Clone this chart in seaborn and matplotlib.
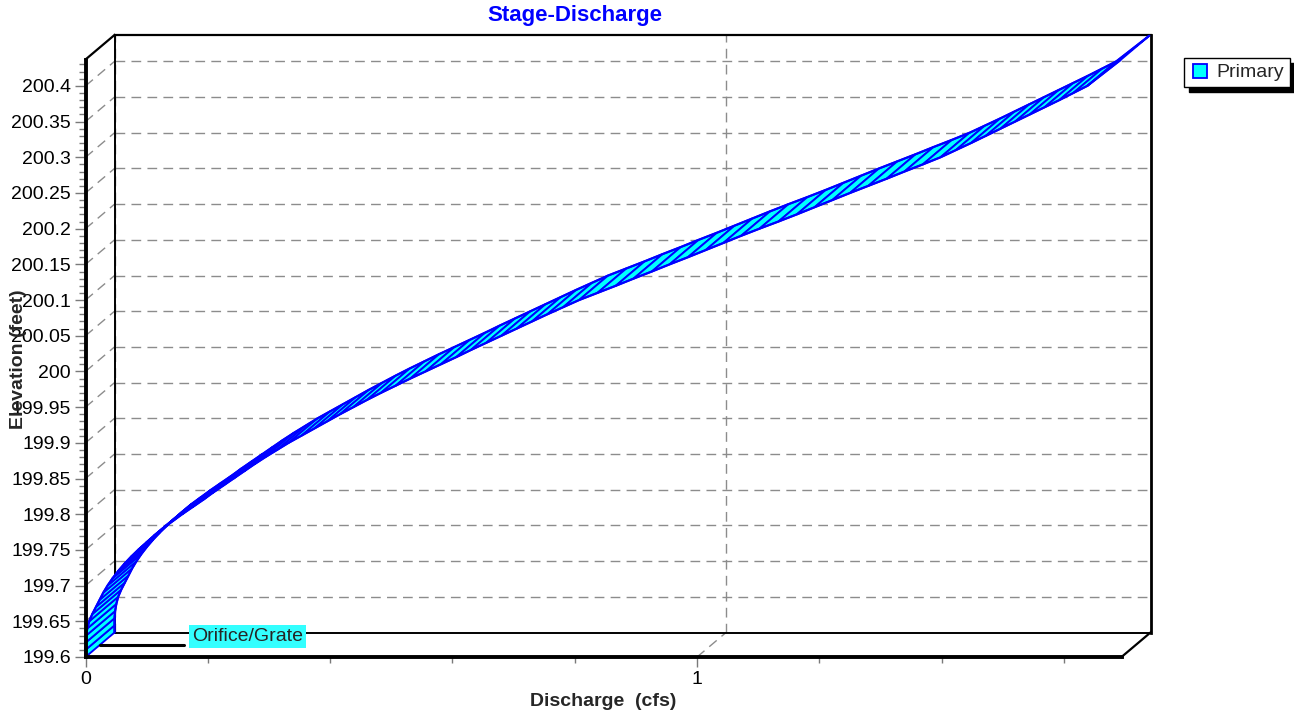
import matplotlib
matplotlib.use("Agg")
import matplotlib.pyplot as plt
from matplotlib.lines import Line2D
from matplotlib.ticker import MultipleLocator, FixedLocator, FormatStrFormatter
import numpy as np
import seaborn as sns

# stage-discharge table (feet, cfs)
elevation = [
    199.60, 199.61, 199.62, 199.63, 199.64, 199.65, 199.66, 199.67, 199.68, 199.69,
    199.70, 199.71, 199.72, 199.73, 199.74, 199.75, 199.76, 199.77, 199.78, 199.79,
    199.80, 199.81, 199.82, 199.83, 199.84, 199.85, 199.86, 199.87, 199.88, 199.89,
    199.90, 199.91, 199.92, 199.93, 199.94, 199.95, 199.96, 199.97, 199.98, 199.99,
    200.00, 200.01, 200.02, 200.03, 200.04, 200.05, 200.06, 200.07, 200.08, 200.09,
    200.10, 200.11, 200.12, 200.13, 200.14, 200.15, 200.16, 200.17, 200.18, 200.19,
    200.20, 200.21, 200.22, 200.23, 200.24, 200.25, 200.26, 200.27, 200.28, 200.29,
    200.30, 200.31, 200.32, 200.33, 200.34, 200.35, 200.36, 200.37, 200.38, 200.39,
    200.40, 200.436,
]
discharge = [
    0.000, 0.000, 0.000, 0.001, 0.003, 0.006, 0.011, 0.017, 0.023, 0.029,
    0.036, 0.044, 0.053, 0.063, 0.074, 0.086, 0.099, 0.112, 0.126, 0.142,
    0.158, 0.175, 0.192, 0.208, 0.225, 0.242, 0.259, 0.276, 0.294, 0.313,
    0.332, 0.353, 0.374, 0.395, 0.416, 0.438, 0.460, 0.483, 0.507, 0.531,
    0.556, 0.581, 0.606, 0.630, 0.655, 0.680, 0.705, 0.730, 0.755, 0.781,
    0.807, 0.837, 0.867, 0.896, 0.926, 0.955, 0.985, 1.014, 1.043, 1.072,
    1.102, 1.133, 1.163, 1.192, 1.221, 1.250, 1.280, 1.310, 1.339, 1.369,
    1.398, 1.423, 1.448, 1.472, 1.496, 1.520, 1.544, 1.568, 1.592, 1.615,
    1.638, 1.692,
]

series_name = "Primary"
device_name = "Orifice/Grate"
x_major = [0, 1]

ELEV_LIM = (199.6, 200.437)
Q_LIM = (0, 1.694)
DEPTH_PX = (29, 24.5)   # fake 3d depth of the chart box, in pixels
FS = 14

sns.set_style("white")
plt.rcParams['font.family'] = ['Liberation Sans', 'DejaVu Sans']

fig = plt.figure(figsize=(12.94, 7.17), dpi=100)
ax = fig.add_axes([85.5 / 1294, 60 / 717, 1036 / 1294, 597.5 / 717])
ax.set_xlim(*Q_LIM)
ax.set_ylim(*ELEV_LIM)

# depth offset converted to data units
p0 = ax.transData.transform([Q_LIM[0], ELEV_LIM[0]])
p1 = ax.transData.inverted().transform(p0 + np.array(DEPTH_PX))
ddx, ddy = p1[0] - Q_LIM[0], p1[1] - ELEV_LIM[0]
sy = (ELEV_LIM[1] - ELEV_LIM[0]) / (ax.transData.transform([0, ELEV_LIM[1]])[1] - p0[1])

xmin, xmax = Q_LIM
ymin, ymax = ELEV_LIM

# ticks
ax.xaxis.set_major_locator(FixedLocator(x_major))
ax.xaxis.set_minor_locator(MultipleLocator(0.2))
ax.yaxis.set_major_locator(MultipleLocator(0.05))
ax.yaxis.set_minor_locator(MultipleLocator(0.01))
ax.yaxis.set_major_formatter(FormatStrFormatter('%g'))
ax.xaxis.set_major_formatter(FormatStrFormatter('%g'))
ax.tick_params(axis='both', which='both', direction='out', color='#7a7a7a', width=1,
               labelsize=FS, labelcolor='black')
ax.tick_params(axis='y', which='major', length=8.2, pad=2.5)
ax.tick_params(axis='y', which='minor', length=5)
ax.tick_params(axis='x', which='major', length=7.2, pad=3)
ax.tick_params(axis='x', which='minor', length=4.3)
ax.tick_params(left=True, bottom=True, which='both')

for s in ['top', 'right']:
    ax.spines[s].set_visible(False)
for s in ['left', 'bottom']:
    ax.spines[s].set_linewidth(2.8)
    ax.spines[s].set_color('black')
    ax.spines[s].set_zorder(6)

grid_kw = dict(color='#8c8c8c', lw=1, ls=(0, (7, 4.5)), clip_on=False, zorder=1)
yticks = [t for t in ax.yaxis.get_majorticklocs() if ymin + 1e-6 < t <= ymax]
for yt in yticks:
    ax.plot([xmin + ddx, xmax + ddx], [yt + ddy, yt + ddy], **grid_kw)
    ax.plot([xmin, xmin + ddx], [yt, yt + ddy], **grid_kw)
for xt in x_major:
    ax.plot([xt + ddx, xt + ddx], [ymin + ddy, ymax + ddy], **grid_kw)
    ax.plot([xt, xt + ddx], [ymin, ymin + ddy], **grid_kw)

# box outline
box_kw = dict(color='black', clip_on=False, zorder=2, solid_capstyle='projecting')
ax.plot([xmin + ddx, xmin + ddx], [ymin + ddy, ymax + ddy], lw=1.4, **box_kw)
ax.plot([xmin + ddx, xmax + ddx], [ymax + ddy, ymax + ddy], lw=1.6, **box_kw)
ax.plot([xmax + ddx, xmax + ddx], [ymin + ddy, ymax + ddy], lw=2, **box_kw)
ax.plot([xmin + ddx, xmax + ddx], [ymin + ddy, ymin + ddy], lw=1.4, **box_kw)
ax.plot([xmin, xmin + ddx], [ymax, ymax + ddy], lw=1.6, **box_kw)
ax.plot([xmax, xmax + ddx], [ymin, ymin + ddy], lw=1.6, **box_kw)

# ribbon: one quad per step of the rating table
q = np.asarray(discharge)
z = np.asarray(elevation)
for i in range(len(q) - 1):
    xs = [q[i], q[i + 1], q[i + 1] + ddx, q[i] + ddx]
    ys = [z[i], z[i + 1], z[i + 1] + ddy, z[i] + ddy]
    ax.fill(xs, ys, facecolor='#00ffff', edgecolor='#0000ff', lw=1.35,
            clip_on=False, zorder=3)
sns.lineplot(x=q, y=z, ax=ax, sort=False, estimator=None, color='#0000ff',
             lw=1.6, clip_on=False, zorder=4)
sns.lineplot(x=q + ddx, y=z + ddy, ax=ax, sort=False, estimator=None,
             color='#0000ff', lw=1.6, clip_on=False, zorder=4)

# device label
ax.plot([xmin + ddx / 2, 0.138 + ddx / 2], [ymin + ddy / 2, ymin + ddy / 2],
        color='black', lw=2.2, clip_on=False, zorder=5)
ax.text(0.151 + ddx / 2, ymin + ddy / 2 + 8 * sy, device_name, fontsize=FS,
        ha='left', va='center', zorder=5,
        bbox=dict(boxstyle='square,pad=0.16', fc='#33ffff', ec='none'))

# title and axis labels
ax.text((575 - 85.5) / 1036, 1 + (59.5 - 15.5) / 597.5, 'Stage-Discharge',
        transform=ax.transAxes, ha='center', va='center', color='#0000ff',
        fontsize=16, fontweight='bold')
ax.set_xlabel('Discharge  (cfs)', fontsize=FS, fontweight='bold', va='center')
ax.xaxis.set_label_coords((603 - 85.5) / 1036, -(701.5 - 657) / 597.5)
ax.set_ylabel('Elevation (feet)', fontsize=FS, fontweight='bold', va='center')
ax.yaxis.set_label_coords(-(85.5 - 18.5) / 1036, (657 - 359) / 597.5)

handle = Line2D([], [], ls='none', marker='s', ms=9.5, mfc='#00ffff',
                mec='#0000ff', mew=1.3)
leg = ax.legend(handles=[handle], labels=[series_name], loc='upper left',
                bbox_to_anchor=(1184 / 1294, 1 - 58 / 717),
                bbox_transform=fig.transFigure, borderaxespad=0, frameon=True,
                fancybox=False, edgecolor='black', framealpha=1, fontsize=FS,
                handlelength=1.05, handletextpad=0.3, borderpad=0.3,
                shadow={'ox': 3.6, 'oy': -3.6, 'color': 'black', 'alpha': 1})
leg.get_frame().set_linewidth(1.0)

fig.savefig('out.png', dpi=100)
